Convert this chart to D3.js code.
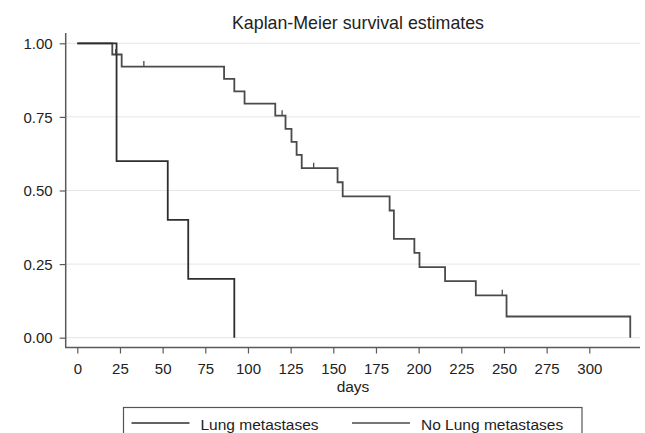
<!DOCTYPE html>
<html>
<head>
<meta charset="utf-8">
<script src="https://cdn.jsdelivr.net/npm/d3@7"></script>
<style>
  body { margin: 0; background: #fff; }
  svg { display: block; font-family: Arial, "Liberation Sans", sans-serif; }
</style>
</head>
<body>
<svg width="645" height="433"></svg>
<script>

// step times (days) and survival after each step
let lungTimes = [0, 23, 53, 65, 92]
let lungSurv = [1, 0.6, 0.4, 0.2, 0]

let noLungTimes = [0, 20.5, 26, 86, 92, 98, 116, 122, 125.5, 128.5, 131.5, 152.5, 155.5, 183, 185.5, 197.5, 200.5, 215.5, 233.5, 251.5, 324]
let noLungSurv = [1, 0.962, 0.921, 0.879, 0.837, 0.795, 0.754, 0.709, 0.665, 0.621, 0.576, 0.528, 0.480, 0.432, 0.336, 0.288, 0.240, 0.192, 0.144, 0.072, 0]

// censored observations in the No Lung metastases group
let censorTimes = [22.5, 39, 120, 138.5, 249]

let xTicks = [0, 25, 50, 75, 100, 125, 150, 175, 200, 225, 250, 275, 300]
let yTicks = [0, 0.25, 0.5, 0.75, 1]

let svg = d3.select('svg')

let x = d3.scaleLinear().domain([0, 300]).range([77.3, 589.3])
let y = d3.scaleLinear().domain([0, 1]).range([337.7, 43.3])

let axisColor = '#5a5a5a'

// gridlines
svg.append('g')
  .selectAll('line')
  .data(yTicks)
  .enter().append('line')
  .attr('x1', 66).attr('x2', 640)
  .attr('y1', d => y(d)).attr('y2', d => y(d))
  .attr('stroke', '#e6e6e6')
  .attr('stroke-width', 1)

// y axis
let yAxis = svg.append('g')
  .attr('transform', 'translate(65.7,0)')
  .call(d3.axisLeft(y).tickValues(yTicks).tickFormat(d3.format('.2f')).tickSize(6).tickSizeOuter(0))
yAxis.select('.domain').remove()
yAxis.append('line')
  .attr('x1', 0).attr('x2', 0).attr('y1', 33).attr('y2', 347.5)
  .attr('stroke', axisColor).attr('stroke-width', 1.5)
yAxis.selectAll('.tick line').attr('stroke', axisColor).attr('stroke-width', 1.2)
yAxis.selectAll('.tick text')
  .attr('x', -13)
  .attr('dy', '0.35em')
  .attr('fill', '#222')
  .style('font-size', '15px')
  .style('font-family', 'Arial, "Liberation Sans", sans-serif')

// x axis
let xAxis = svg.append('g')
  .attr('transform', 'translate(0,347.5)')
  .call(d3.axisBottom(x).tickValues(xTicks).tickSize(6).tickSizeOuter(0))
xAxis.select('.domain').remove()
xAxis.append('line')
  .attr('x1', 65).attr('x2', 640).attr('y1', 0).attr('y2', 0)
  .attr('stroke', axisColor).attr('stroke-width', 1.5)
xAxis.selectAll('.tick line').attr('stroke', axisColor).attr('stroke-width', 1.2)
xAxis.selectAll('.tick text')
  .attr('y', 21)
  .attr('dy', '0.35em')
  .attr('fill', '#222')
  .style('font-size', '15px')
  .style('font-family', 'Arial, "Liberation Sans", sans-serif')

svg.append('text')
  .attr('x', 353).attr('y', 392)
  .attr('text-anchor', 'middle')
  .attr('fill', '#222')
  .style('font-size', '15.5px')
  .text('days')

// title
svg.append('text')
  .attr('x', 358).attr('y', 28.5)
  .attr('text-anchor', 'middle')
  .attr('fill', '#222')
  .style('font-size', '17.8px')
  .text('Kaplan-Meier survival estimates')

// curves
function stepData(times, surv) {
  return times.map((t, i) => ({ t: t, s: surv[i] }))
}

let line = d3.line()
  .x(d => x(d.t))
  .y(d => y(d.s))
  .curve(d3.curveStepAfter)

function drawCurve(times, surv, color) {
  let pts = stepData(times, surv)
  svg.append('path')
    .datum(pts)
    .attr('d', line)
    .attr('fill', 'none')
    .attr('stroke', color)
    .attr('stroke-width', 1.8)
}

drawCurve(noLungTimes, noLungSurv, '#4a4a4a')
drawCurve(lungTimes, lungSurv, '#2e2e2e')

// censor ticks
function survAt(t) {
  let s = 1
  noLungTimes.forEach((tt, i) => { if (tt <= t) s = noLungSurv[i] })
  return s
}

svg.append('g')
  .selectAll('line')
  .data(censorTimes)
  .enter().append('line')
  .attr('x1', d => x(d)).attr('x2', d => x(d))
  .attr('y1', d => y(survAt(d)))
  .attr('y2', d => y(survAt(d)) - 5.5)
  .attr('stroke', '#4a4a4a')
  .attr('stroke-width', 1.3)

// legend
let legend = svg.append('g')
legend.append('rect')
  .attr('x', 123.5).attr('y', 407.5)
  .attr('width', 458.5).attr('height', 40)
  .attr('fill', 'none')
  .attr('stroke', '#555')
  .attr('stroke-width', 1.2)

let legendItems = [
  { label: 'Lung metastases', x1: 131.5, color: '#2e2e2e' },
  { label: 'No Lung metastases', x1: 352, color: '#4a4a4a' }
]

legendItems.forEach(d => {
  legend.append('line')
    .attr('x1', d.x1).attr('x2', d.x1 + 58)
    .attr('y1', 423).attr('y2', 423)
    .attr('stroke', d.color)
    .attr('stroke-width', 1.3)
  legend.append('text')
    .attr('x', d.x1 + 69).attr('y', 429.5)
    .attr('fill', '#222')
    .style('font-size', '15.5px')
    .text(d.label)
})

</script>
</body>
</html>
